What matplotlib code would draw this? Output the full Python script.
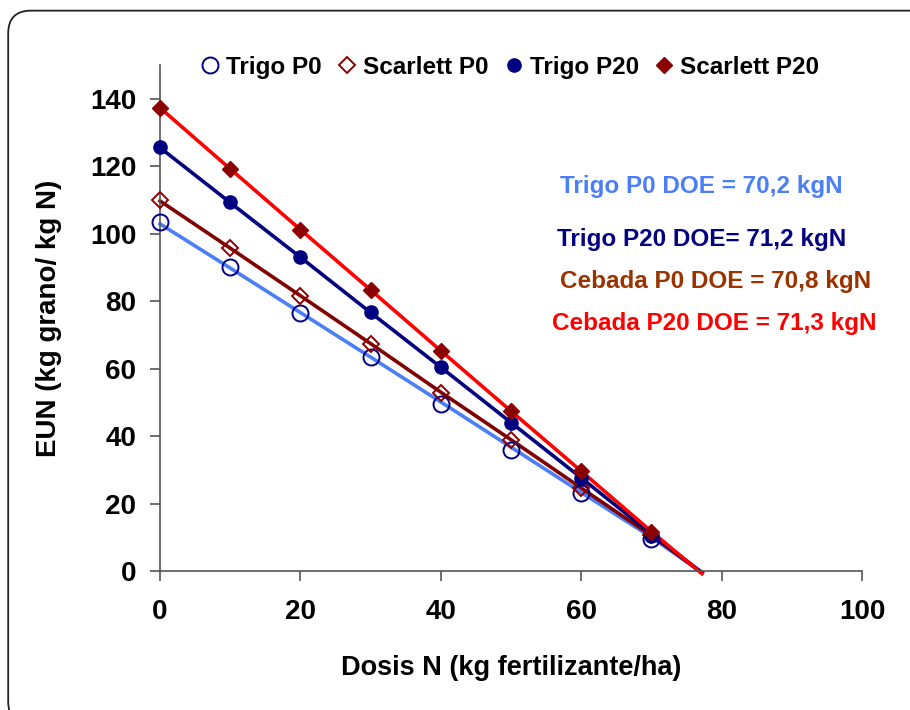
import matplotlib
matplotlib.use("Agg")
import matplotlib.pyplot as plt
from matplotlib.patches import FancyBboxPatch

plt.rcParams['font.family'] = ['Liberation Sans', 'DejaVu Sans']
plt.rcParams['font.weight'] = 'bold'

# dosis de N (kg/ha)
dosis = [0, 10, 20, 30, 40, 50, 60, 70]

# EUN medida (kg grano / kg N)
trigo_p0 = [103.5, 90, 76.5, 63.5, 49.5, 36, 23, 9.5]
scarlett_p0 = [110, 95.8, 81.5, 67.2, 52.7, 38.8, 24.5, 10.8]
trigo_p20 = [125.7, 109.3, 93, 76.7, 60.4, 44, 27.6, 10.5]
scarlett_p20 = [137.3, 119.2, 101.2, 83.4, 65.2, 47.4, 29.6, 11.7]

# curvas ajustadas, llegan hasta EUN = 0
dosis_fit = [0, 10, 20, 30, 40, 50, 60, 70, 77.2]
fit_trigo_p0 = [102.9, 89.8, 76.6, 63.4, 50.1, 36.7, 23.3, 10, -0.5]
fit_scarlett_p0 = [109.7, 95.7, 81.6, 67.4, 53, 38.9, 24.6, 10.5, -0.5]
fit_trigo_p20 = [125.5, 109.2, 93, 76.6, 60.4, 44, 27.6, 11, -0.5]
fit_scarlett_p20 = [137.3, 119.2, 101.2, 83.3, 65.3, 47.4, 29.6, 11.7, -0.8]

doe_labels = ["Trigo P0 DOE = 70,2 kgN", "Trigo P20 DOE= 71,2 kgN",
              "Cebada P0 DOE = 70,8 kgN", "Cebada P20 DOE = 71,3 kgN"]

fig = plt.figure(figsize=(9.1, 7.1), dpi=100)
ax = fig.add_axes([0.1758, 0.1958, 0.7715, 0.7127])

# marco redondeado alrededor del grafico
frame = FancyBboxPatch((0.009, -0.02), 1.02, 1.005, boxstyle="round,pad=0,rounding_size=0.025",
                       transform=fig.transFigure, fill=False, edgecolor='#222222', linewidth=1.3,
                       clip_on=False, mutation_aspect=910 / 710)
fig.patches.append(frame)

lw = 2.6
ax.plot(dosis_fit, fit_trigo_p0, color='#4A7FF5', lw=lw, clip_on=False, zorder=2)
ax.plot(dosis_fit, fit_scarlett_p0, color='#800000', lw=lw, clip_on=False, zorder=2)
ax.plot(dosis_fit, fit_trigo_p20, color='#000080', lw=lw, clip_on=False, zorder=2)
ax.plot(dosis_fit, fit_scarlett_p20, color='#FF0000', lw=lw, clip_on=False, zorder=2)

ax.plot(dosis, trigo_p0, 'o', ms=11.5, mfc='none', mec='#000080', mew=1.4,
        label='Trigo P0', clip_on=False, zorder=3)
ax.plot(dosis, scarlett_p0, 'D', ms=8, mfc='none', mec='#8B0000', mew=1.4,
        label='Scarlett P0', clip_on=False, zorder=3)
ax.plot(dosis, trigo_p20, 'o', ms=9.5, color='#000080',
        label='Trigo P20', clip_on=False, zorder=3)
ax.plot(dosis, scarlett_p20, 'D', ms=8.5, color='#8B0000',
        label='Scarlett P20', clip_on=False, zorder=3)

ax.set_xlim(0, 100)
ax.set_ylim(0, 150)
ax.set_xticks(range(0, 101, 20))
ax.set_yticks(range(0, 141, 20))
ax.spines['top'].set_visible(False)
ax.spines['right'].set_visible(False)
for s in ('left', 'bottom'):
    ax.spines[s].set_color('#555555')
    ax.spines[s].set_linewidth(1.2)
ax.tick_params(axis='both', direction='out', length=7, width=1.2, color='#555555',
               labelsize=20, pad=10)
ax.tick_params(axis='x', pad=13)

ax.set_xlabel('Dosis N (kg fertilizante/ha)', fontsize=19.5, fontweight='bold', labelpad=22)
ax.set_ylabel('EUN (kg grano/ kg N)', fontsize=20, fontweight='bold', labelpad=20)

leg = fig.legend(handles=ax.get_lines()[4:], loc='center', bbox_to_anchor=(0.558, 0.905),
                 ncol=4, frameon=False, fontsize=17.5, handletextpad=0.1, columnspacing=0.5,
                 handlelength=1.1, borderaxespad=0)

doe_colors = ['#4A7FF5', '#000080', '#993300', '#FF0000']
doe_pos = [(0.615, 0.737), (0.612, 0.662), (0.615, 0.603), (0.607, 0.545)]
for txt, c, (x, y) in zip(doe_labels, doe_colors, doe_pos):
    fig.text(x, y, txt, color=c, fontsize=17.5, fontweight='bold', va='center', ha='left')

fig.savefig('out.png', dpi=100)
